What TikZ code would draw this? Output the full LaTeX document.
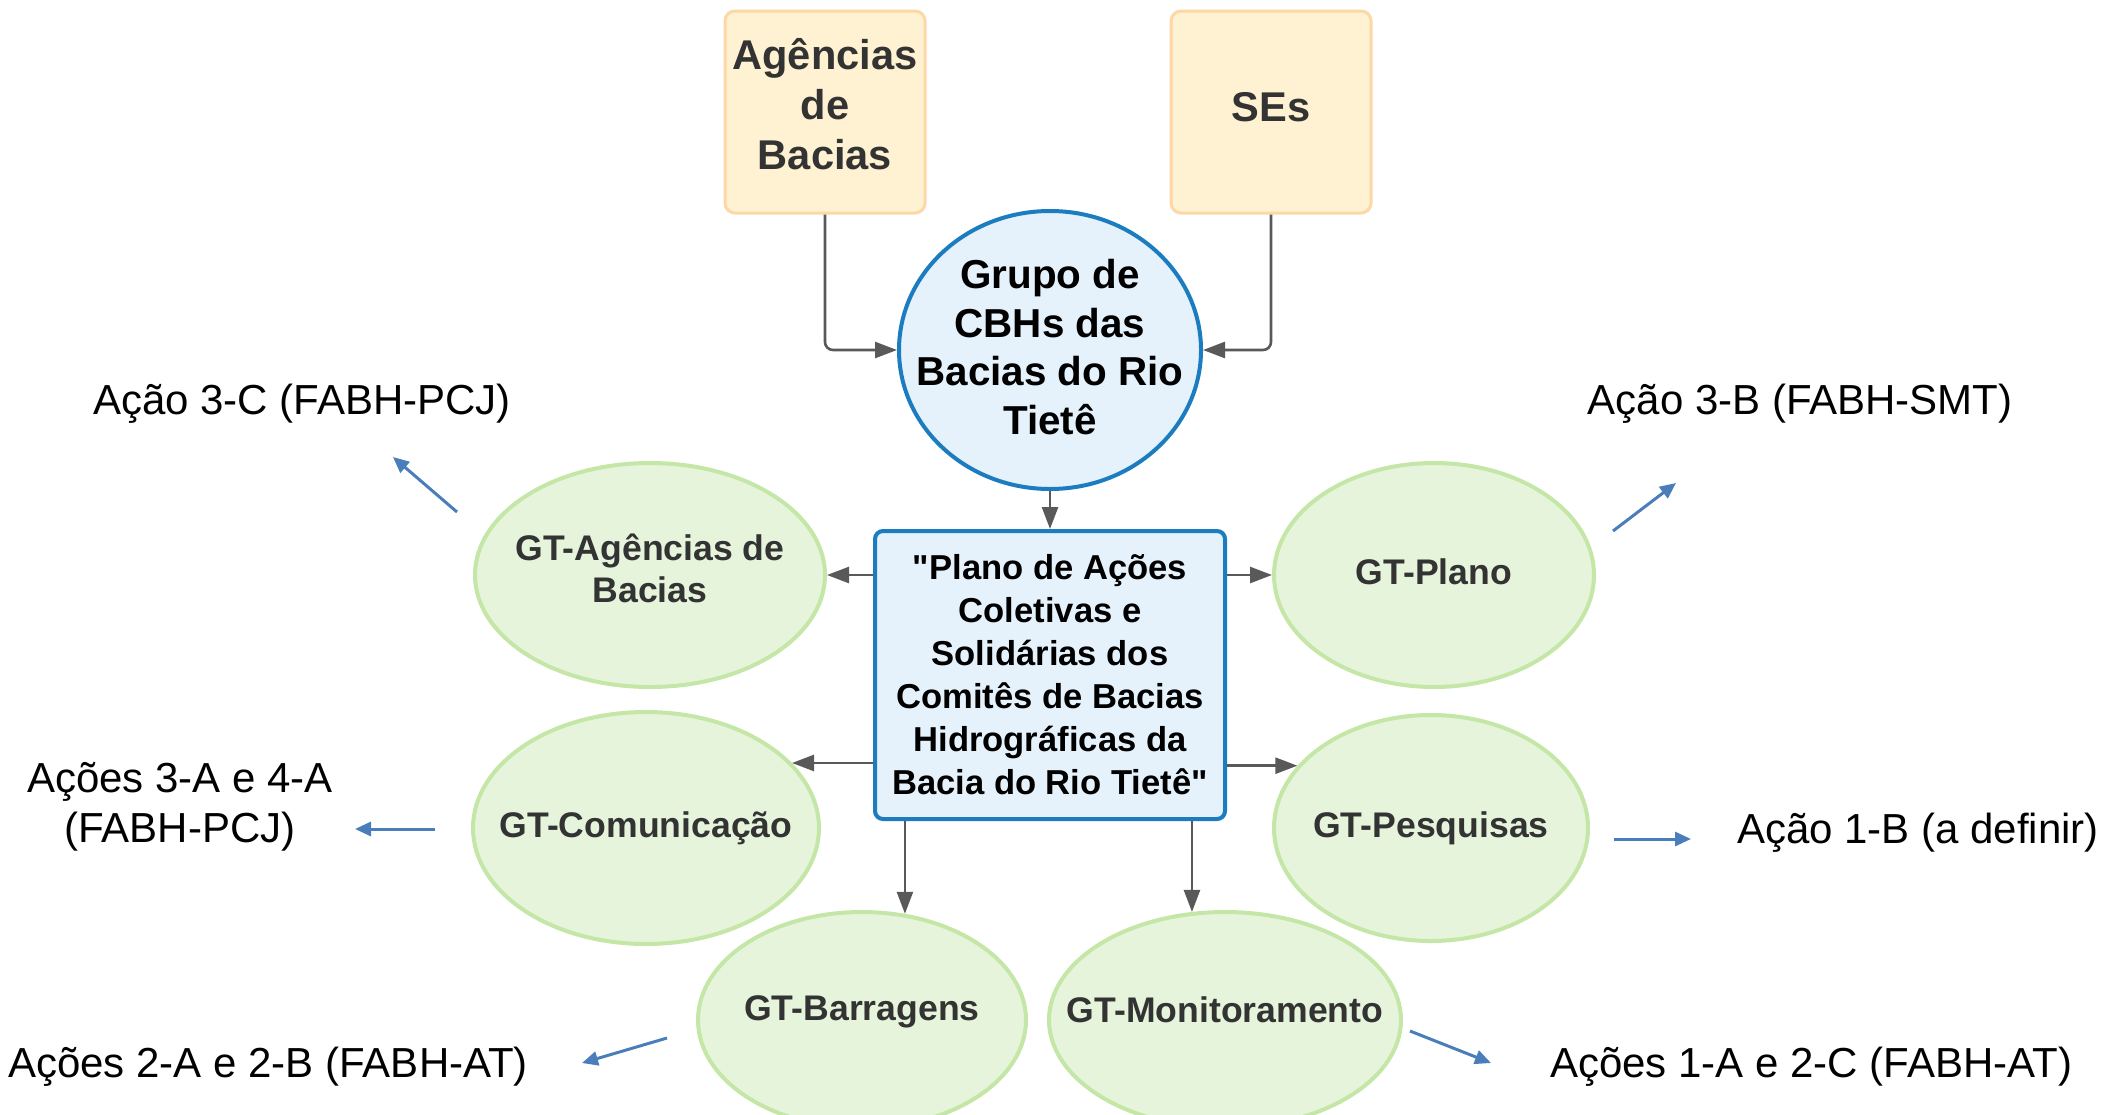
\documentclass[tikz,border=0pt]{standalone}
\usepackage{fontspec}
\setmainfont{Liberation Sans}
\newfontfamily\qfont{Liberation Sans}
\usetikzlibrary{arrows.meta,shapes.geometric,calc}
\definecolor{orfill}{HTML}{FFF2D2}
\definecolor{ordraw}{HTML}{FDD8A6}
\definecolor{bfill}{HTML}{E5F2FB}
\definecolor{bdraw}{HTML}{1C7CC0}
\definecolor{gfill}{HTML}{E6F4DC}
\definecolor{gdraw}{HTML}{C4E6A6}
\definecolor{arrgray}{HTML}{595959}
\definecolor{arrblue}{HTML}{4A7EBB}
\definecolor{txtgray}{HTML}{333333}
\newcommand{\sq}{{\qfont\symbol{34}}}
\begin{document}
\begin{tikzpicture}[x=0.5pt,y=-0.5pt,
  orbox/.style={rectangle, rounded corners=5pt, draw=ordraw, fill=orfill, line width=1.5pt,
    minimum width=100pt, minimum height=101pt, inner sep=0pt},
  orlab/.style={align=center, text=txtgray, inner sep=0pt,
    font=\bfseries\fontsize{20.8}{25}\selectfont},
  grell/.style={ellipse, draw=bdraw, fill=bfill, line width=2pt, inner sep=0pt,
    minimum width=151pt, minimum height=139pt},
  grlab/.style={align=center, text=black, inner sep=0pt, font=\bfseries\fontsize{20.2}{24.4}\selectfont},
  plbox/.style={rectangle, rounded corners=4pt, draw=bdraw, fill=bfill, line width=2pt,
    minimum width=175pt, minimum height=144pt, inner sep=0pt, align=center, text=black,
    font=\bfseries\fontsize{17.3}{21.5}\selectfont},
  gtell/.style={ellipse, draw=gdraw, fill=gfill, line width=2pt, inner sep=0pt},
  gtlab/.style={align=center, text=txtgray, inner sep=0pt, font=\bfseries\fontsize{17.8}{21}\selectfont},
  garr/.style={draw=arrgray, line width=1.3pt, -{Triangle[length=11pt,width=8pt]}},
  barr/.style={draw=arrblue, line width=1.5pt, -{Triangle[length=8pt,width=7pt]}},
  actlab/.style={align=center, text=black, inner sep=0pt, font=\fontsize{21}{25}\selectfont}
]
\useasboundingbox (0,0) rectangle (2108,1114);

% top boxes
\node[orbox, label={[orlab, yshift=4pt]center:{Agências\\de\\Bacias}}] (ag) at (825,112) {};
\node[orbox, label={[orlab, yshift=2.5pt]center:{SEs}}] (se) at (1271,112) {};

% group circle
\node[grell, label={[grlab, yshift=1.5pt]center:{Grupo de\\CBHs das\\Bacias do Rio\\Tietê}}] (grupo) at (1050,350) {};

% central plan box
\node[plbox] (plano) at (1050,675) {\sq Plano de Ações\\Coletivas e\\Solidárias dos\\Comitês de Bacias\\Hidrográficas da\\Bacia do Rio Tietê\sq};

% GT ellipses
\node[gtell, minimum width=175pt, minimum height=112pt,
  label={[gtlab, yshift=3.5pt]center:{GT-Agências de\\Bacias}}] (gtag) at (650,575) {};
\node[gtell, minimum width=160pt, minimum height=112pt,
  label={[gtlab, yshift=1.5pt]center:{GT-Plano}}] (gtpl) at (1434,575) {};
\node[gtell, minimum width=173pt, minimum height=116pt,
  label={[gtlab]center:{GT-Comunicação}}] (gtco) at (646,828) {};
\node[gtell, minimum width=157pt, minimum height=113pt,
  label={[gtlab]center:{GT-Pesquisas}}] (gtpe) at (1431,828) {};
\node[gtell, minimum width=164pt, minimum height=108pt,
  label={[gtlab, yshift=4pt]center:{GT-Barragens}}] (gtba) at (862,1020) {};
\node[gtell, minimum width=176pt, minimum height=108pt,
  label={[gtlab, yshift=5pt]center:{GT-Monitoramento}}] (gtmo) at (1225,1020) {};

% gray connectors
\draw[garr, rounded corners=4pt] (ag.south) |- (grupo.west);
\draw[garr, rounded corners=4pt] (se.south) |- (grupo.east);
\draw[garr] (grupo.south) -- (plano.north);
\draw[garr] (plano.west |- gtag.east) -- (gtag.east);
\draw[garr] (plano.east |- gtpl.west) -- (gtpl.west);
\draw[garr] (plano.west |- gtco.24) -- (gtco.24);
\draw[garr] (plano.east |- gtpe.155) -- (gtpe.155);
\draw[garr] (plano.south -| gtba.68) -- (gtba.68);
\draw[garr] (plano.south -| gtmo.107) -- (gtmo.107);

% action labels
\node[actlab] (l3c) at (302,404) {Ação 3-C (FABH-PCJ)};
\node[actlab] (l34) at (180,807) {Ações 3-A e 4-A\\(FABH-PCJ)};
\node[actlab] (l2a) at (268,1067) {Ações 2-A e 2-B (FABH-AT)};
\node[actlab] (l3b) at (1800,404) {Ação 3-B (FABH-SMT)};
\node[actlab] (l1b) at (1918,833) {Ação 1-B (a definir)};
\node[actlab] (l1a) at (1811,1067) {Ações 1-A e 2-C (FABH-AT)};

% blue arrow end points
\coordinate (b1s) at (457,512); \coordinate (b1e) at (393,457);
\coordinate (b2s) at (435,829); \coordinate (b2e) at (355,829);
\coordinate (b3s) at (667,1038); \coordinate (b3e) at (582,1063);
\coordinate (b4s) at (1613,531); \coordinate (b4e) at (1676,483);
\coordinate (b5s) at (1614,839); \coordinate (b5e) at (1691,839);
\coordinate (b6s) at (1410,1031); \coordinate (b6e) at (1491,1063);
\draw[barr] (b1s) -- (b1e);
\draw[barr] (b2s) -- (b2e);
\draw[barr] (b3s) -- (b3e);
\draw[barr] (b4s) -- (b4e);
\draw[barr] (b5s) -- (b5e);
\draw[barr] (b6s) -- (b6e);
\end{tikzpicture}
\end{document}
